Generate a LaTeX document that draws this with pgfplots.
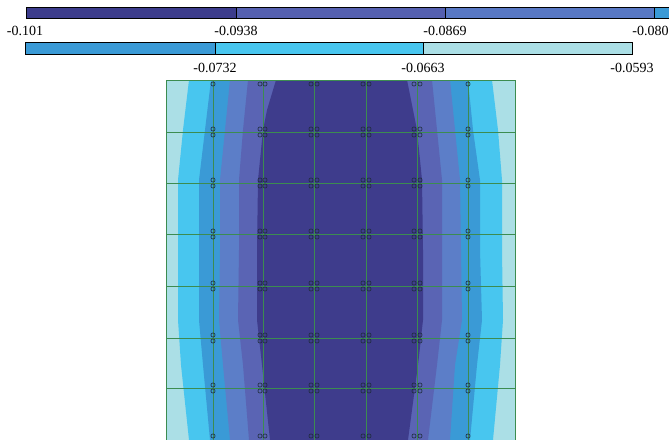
\documentclass[border=0pt]{standalone}
\usepackage{pgfplots}
\pgfplotsset{compat=1.18}
\usepackage{fontspec}
\setmainfont{Liberation Serif}
\definecolor{cNavy}{HTML}{3E3C8C}
\definecolor{cSlate}{HTML}{5A64B4}
\definecolor{cBP}{HTML}{5C7EC8}
\definecolor{cBlue}{HTML}{3A9AD6}
\definecolor{cCyan}{HTML}{48C6EF}
\definecolor{cPale}{HTML}{ABDFE6}
\definecolor{bNavy}{HTML}{3C3C8C}
\definecolor{bSlate}{HTML}{5560B0}
\definecolor{bBP}{HTML}{5878C4}
\definecolor{gridg}{HTML}{3C8C50}
\definecolor{markc}{HTML}{1E2C3C}
\begin{document}
\begin{tikzpicture}
\begin{axis}[name=ax, x=1pt, y=1pt, xmin=0, xmax=669, ymin=0, ymax=439,
  y dir=reverse, hide axis, scale only axis, clip=true]
% ---- colour bar, row 1
\addplot[fill=bNavy, draw=black, line width=0.8pt] coordinates {(26,7) (236,7) (236,18) (26,18)} -- cycle;
\addplot[fill=bSlate, draw=black, line width=0.8pt] coordinates {(236,7) (445,7) (445,18) (236,18)} -- cycle;
\addplot[fill=bBP, draw=black, line width=0.8pt] coordinates {(445,7) (654,7) (654,18) (445,18)} -- cycle;
\addplot[fill=cBlue, draw=black, line width=0.8pt] coordinates {(654,7) (700,7) (700,18) (654,18)} -- cycle;
% ---- colour bar, row 2
\addplot[fill=cBlue, draw=black, line width=0.8pt] coordinates {(25,42) (215,42) (215,54) (25,54)} -- cycle;
\addplot[fill=cCyan, draw=black, line width=0.8pt] coordinates {(215,42) (423,42) (423,54) (215,54)} -- cycle;
\addplot[fill=cPale, draw=black, line width=0.8pt] coordinates {(423,42) (632,42) (632,54) (423,54)} -- cycle;
% ---- labels
\begin{scope}[every node/.style={font=\fontsize{14}{16}\selectfont, inner sep=0pt}]
\node at (axis cs:25,31) {-0.101};
\node at (axis cs:236,31) {-0.0938};
\node at (axis cs:445,31) {-0.0869};
\node at (axis cs:654,31) {-0.0801};
\node at (axis cs:215,68) {-0.0732};
\node at (axis cs:423,68) {-0.0663};
\node at (axis cs:632,68) {-0.0593};
\end{scope}
% ---- contour bands
\addplot[fill=cPale, draw=none] coordinates {(166,80) (515,80) (515,440) (166,440)} -- cycle;
\addplot[fill=cCyan, draw=none] coordinates {(189,80) (183,130) (178,180) (178,250) (178,320) (181,365) (189,440)
  (493,440) (500,365) (503,320) (502,250) (502,180) (498,130) (492,80)} -- cycle;
\addplot[fill=cBlue, draw=none] coordinates {(211,80) (205,130) (199,180) (199,250) (199,320) (203,365) (210,440)
  (470,440) (477,365) (482,320) (480,250) (480,180) (473,130) (468,80)} -- cycle;
\addplot[fill=cBP, draw=none] coordinates {(230,80) (225,130) (220,180) (220,250) (219,320) (223,365) (230,440)
  (450,440) (455,365) (462,320) (461,250) (460,180) (455,130) (450,80)} -- cycle;
\addplot[fill=cSlate, draw=none] coordinates {(248,80) (243,130) (239,180) (239,250) (238,320) (243,365) (249,440)
  (428,440) (437,365) (442,320) (442,250) (442,180) (437,130) (432,80)} -- cycle;
\addplot[fill=cNavy, draw=none] coordinates {(276,80) (267,110) (263,130) (258,180) (257,250) (257,320) (262,365) (270,440)
  (408,440) (418,365) (423,320) (423,250) (422,180) (417,130) (407,80)} -- cycle;
% ---- grid lines
\addplot[gridg, line width=0.8pt] coordinates {(213,80) (213,440)};
\addplot[gridg, line width=0.8pt] coordinates {(263,80) (263,440)};
\addplot[gridg, line width=0.8pt] coordinates {(314,80) (314,440)};
\addplot[gridg, line width=0.8pt] coordinates {(366,80) (366,440)};
\addplot[gridg, line width=0.8pt] coordinates {(417,80) (417,440)};
\addplot[gridg, line width=0.8pt] coordinates {(468,80) (468,440)};
\addplot[gridg, line width=0.8pt] coordinates {(166,132) (515,132)};
\addplot[gridg, line width=0.8pt] coordinates {(166,183) (515,183)};
\addplot[gridg, line width=0.8pt] coordinates {(166,234) (515,234)};
\addplot[gridg, line width=0.8pt] coordinates {(166,286) (515,286)};
\addplot[gridg, line width=0.8pt] coordinates {(166,338) (515,338)};
\addplot[gridg, line width=0.8pt] coordinates {(166,388) (515,388)};
% ---- border
\addplot[gridg, line width=1pt] coordinates {(166,440) (166,80) (515,80) (515,440)};
% ---- node markers
\addplot[only marks, mark=o, mark size=2.1pt, mark options={draw=markc, line width=0.6pt, fill=none}] coordinates {
(213,84) (260,84) (265,84) (311,84) (317,84) (363,84) (369,84) (414,84) (420,84) (468,84)
(213,129) (260,129) (265,129) (311,129) (317,129) (363,129) (369,129) (414,129) (420,129) (468,129)
(213,135) (260,135) (265,135) (311,135) (317,135) (363,135) (369,135) (414,135) (420,135) (468,135)
(213,180) (260,180) (265,180) (311,180) (317,180) (363,180) (369,180) (414,180) (420,180) (468,180)
(213,186) (260,186) (265,186) (311,186) (317,186) (363,186) (369,186) (414,186) (420,186) (468,186)
(213,231) (260,231) (265,231) (311,231) (317,231) (363,231) (369,231) (414,231) (420,231) (468,231)
(213,237) (260,237) (265,237) (311,237) (317,237) (363,237) (369,237) (414,237) (420,237) (468,237)
(213,283) (260,283) (265,283) (311,283) (317,283) (363,283) (369,283) (414,283) (420,283) (468,283)
(213,289) (260,289) (265,289) (311,289) (317,289) (363,289) (369,289) (414,289) (420,289) (468,289)
(213,335) (260,335) (265,335) (311,335) (317,335) (363,335) (369,335) (414,335) (420,335) (468,335)
(213,341) (260,341) (265,341) (311,341) (317,341) (363,341) (369,341) (414,341) (420,341) (468,341)
(213,385) (260,385) (265,385) (311,385) (317,385) (363,385) (369,385) (414,385) (420,385) (468,385)
(213,391) (260,391) (265,391) (311,391) (317,391) (363,391) (369,391) (414,391) (420,391) (468,391)
(213,436) (260,436) (265,436) (311,436) (317,436) (363,436) (369,436) (414,436) (420,436) (468,436)
};
\end{axis}
\pgfresetboundingbox
\path (ax.south west) rectangle (ax.north east);
\end{tikzpicture}
\end{document}
